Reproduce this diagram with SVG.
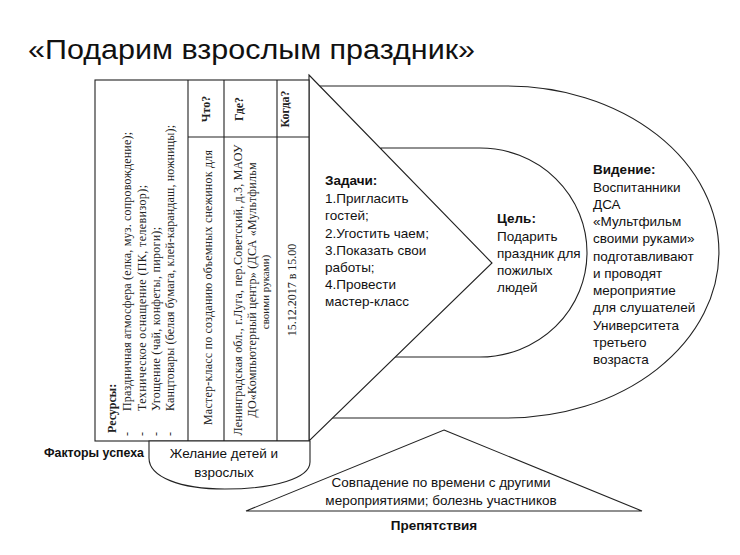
<svg xmlns="http://www.w3.org/2000/svg" width="740" height="555" viewBox="0 0 740 555">
<style>
.shape{fill:#fff;stroke:#222;stroke-width:1.1}
.tl{fill:none;stroke:#222;stroke-width:1.1}
.sans{font-family:"Liberation Sans",Arial,sans-serif;font-size:13.5px;fill:#111}
.b{font-weight:bold}
.serif{font-family:"Liberation Serif","Times New Roman",serif;font-size:12px;fill:#222}
.mid{text-anchor:middle}
</style>
<rect width="740" height="555" fill="#fff"/>

<g id="title">
<text class="sans" x="28" y="59" style="font-size:27px" textLength="447" lengthAdjust="spacingAndGlyphs">«Подарим взрослым праздник»</text>
</g>

<g id="vision">
<path class="shape" d="M309,86 H507 A212,166 0 0 1 507,418 H309 Z"/>
<text class="sans"><tspan class="b" x="593" y="174">Видение:</tspan><tspan x="593" y="192">Воспитанники</tspan><tspan x="593" y="209">ДСА</tspan><tspan x="593" y="226">«Мультфильм</tspan><tspan x="593" y="243">своими руками»</tspan><tspan x="593" y="261">подготавливают</tspan><tspan x="593" y="278">и проводят</tspan><tspan x="593" y="295">мероприятие</tspan><tspan x="593" y="312">для слушателей</tspan><tspan x="593" y="330">Университета</tspan><tspan x="593" y="347">третьего</tspan><tspan x="593" y="364">возраста</tspan></text>
</g>

<g id="goal">
<path class="shape" d="M381,148 H480 A107,104.5 0 0 1 480,357 H381 Z"/>
<text class="sans"><tspan class="b" x="497" y="223">Цель:</tspan><tspan x="497" y="241">Подарить</tspan><tspan x="497" y="258">праздник для</tspan><tspan x="497" y="275">пожилых</tspan><tspan x="497" y="292">людей</tspan></text>
</g>

<g id="tasks">
<path class="shape" d="M309,75 L492,263 L309,441 Z"/>
<text class="sans"><tspan class="b" x="325" y="185">Задачи:</tspan><tspan x="325" y="203">1.Пригласить</tspan><tspan x="325" y="220">гостей;</tspan><tspan x="325" y="238">2.Угостить чаем;</tspan><tspan x="325" y="255">3.Показать свои</tspan><tspan x="325" y="272">работы;</tspan><tspan x="325" y="289">4.Провести</tspan><tspan x="325" y="306">мастер-класс</tspan></text>
</g>

<g id="table">
<rect class="shape" x="95" y="80" width="214" height="361"/>
<path class="tl" d="M188,80 V441 M224,80 V441 M277,80 V441 M188,137 H309"/>
<text class="serif b" transform="translate(116,433) rotate(-90)">Ресурсы:</text>
<text class="serif" transform="translate(131,436) rotate(-90)">-</text>
<text class="serif" transform="translate(146,436) rotate(-90)">-</text>
<text class="serif" transform="translate(160,436) rotate(-90)">-</text>
<text class="serif" transform="translate(174,436) rotate(-90)">-</text>
<text class="serif" transform="translate(131,411) rotate(-90)" textLength="279" lengthAdjust="spacing">Праздничная атмосфера (елка, муз. сопровождение);</text>
<text class="serif" transform="translate(146,411) rotate(-90)" textLength="226" lengthAdjust="spacing">Техническое оснащение (ПК, телевизор);</text>
<text class="serif" transform="translate(160,411) rotate(-90)" textLength="184" lengthAdjust="spacing">Угощение (чай, конфеты, пироги);</text>
<text class="serif" transform="translate(174,411) rotate(-90)" textLength="286" lengthAdjust="spacing">Канцтовары (белая бумага, клей-карандаш, ножницы);</text>
<text class="serif b mid" transform="translate(210,109) rotate(-90)">Что?</text>
<text class="serif b mid" transform="translate(243,109) rotate(-90)">Где?</text>
<text class="serif b mid" transform="translate(289,109) rotate(-90)">Когда?</text>
<text class="serif" transform="translate(212,425) rotate(-90)" textLength="275" lengthAdjust="spacing">Мастер-класс по созданию объемных снежинок для</text>
<text class="serif mid" transform="translate(242,290) rotate(-90)" textLength="291" lengthAdjust="spacing">Ленинградская обл., г.Луга, пер.Советский, д.3, МАОУ</text>
<text class="serif mid" transform="translate(256,290) rotate(-90)" textLength="255" lengthAdjust="spacing">ДО«Компьютерный центр» (ДСА «Мультфильм</text>
<text class="serif mid" transform="translate(269,292) rotate(-90)" style="font-size:11px">своими руками)</text>
<text class="serif mid" transform="translate(296,290) rotate(-90)">15.12.2017 в 15.00</text>
</g>

<g id="success-factors">
<path class="shape" d="M149,441 H310 V462 C310,478 275,489 225,489 C180,489 149,477 149,458 Z"/>
<text class="sans b" x="44" y="457" textLength="100" lengthAdjust="spacingAndGlyphs">Факторы успеха</text>
<text class="sans mid" x="224" y="458">Желание детей и</text>
<text class="sans mid" x="224" y="477">взрослых</text>
</g>

<g id="obstacles">
<path class="shape" d="M444,430 L642,511 L246,511 Z"/>
<text class="sans mid" x="441" y="487">Совпадение по времени с другими</text>
<text class="sans mid" x="441" y="505">мероприятиями; болезнь участников</text>
<text class="sans b mid" x="434" y="530">Препятствия</text>
</g>

<g id="connectors"/>
</svg>
